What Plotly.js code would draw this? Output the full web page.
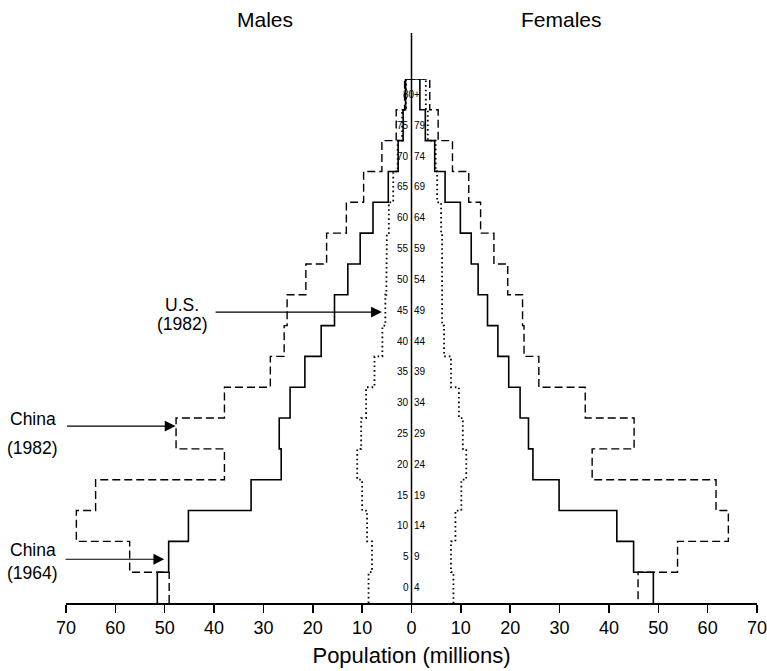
<!DOCTYPE html>
<html>
<head>
<meta charset="utf-8">
<script src="https://cdn.plot.ly/plotly-3.0.1.min.js"></script>
<style>html,body{margin:0;padding:0;background:#fff;}#chart{width:767px;height:671px;}</style>
</head>
<body>
<div id="chart"></div>
<script>
// Age groups (lower bound of each 5-year band); last band is 80+
const ageStarts = [0, 5, 10, 15, 20, 25, 30, 35, 40, 45, 50, 55, 60, 65, 70, 75, 80];
const ageLeftLabels  = ['0','5','10','15','20','25','30','35','40','45','50','55','60','65','70','75'];
const ageRightLabels = ['4','9','14','19','24','29','34','39','44','49','54','59','64','69','74','79'];
const topLabel = '80+';

// Population in millions, by age band (0-4 ... 80+)
const china1964Male   = [51.5, 49.2, 45.2, 32.5, 26.4, 26.8, 24.6, 21.6, 18.3, 15.6, 12.9, 10.4, 7.8, 4.7, 2.7, 1.7, 1.2];
const china1964Female = [49.0, 45.0, 41.6, 29.9, 24.6, 23.7, 22.0, 19.7, 17.5, 15.4, 13.5, 12.1, 9.9, 6.8, 4.7, 2.8, 1.7];
const china1982Male   = [49.1, 57.1, 67.9, 64.0, 37.9, 47.7, 37.9, 28.6, 25.8, 25.2, 21.4, 17.2, 13.2, 9.7, 6.0, 3.1, 1.4];
const china1982Female = [45.9, 53.9, 64.2, 61.7, 36.6, 45.1, 35.2, 25.8, 22.8, 22.5, 19.5, 16.7, 14.0, 11.6, 8.3, 5.4, 3.7];
const us1982Male      = [8.7, 8.0, 9.0, 10.0, 11.0, 10.2, 9.2, 7.5, 5.9, 5.3, 5.1, 5.0, 4.6, 3.7, 2.8, 1.9, 1.1];
const us1982Female    = [8.5, 8.0, 8.9, 10.1, 11.1, 10.4, 9.6, 8.0, 6.6, 6.2, 6.2, 6.2, 6.0, 5.2, 4.9, 3.3, 2.9];

const xTickVals = [-70, -60, -50, -40, -30, -20, -10, 0, 10, 20, 30, 40, 50, 60, 70];
const xTickText = ['70','60','50','40','30','20','10','0','10','20','30','40','50','60','70'];

const BAND = 5;
const FONT = 'Liberation Sans, Arial, Helvetica, sans-serif';

function pyramidPath(male, female) {
  const xs = [], ys = [];
  for (let i = 0; i < male.length; i++) {
    xs.push(-male[i], -male[i]);
    ys.push(ageStarts[i], ageStarts[i] + BAND);
  }
  for (let i = female.length - 1; i >= 0; i--) {
    xs.push(female[i], female[i]);
    ys.push(ageStarts[i] + BAND, ageStarts[i]);
  }
  return {xs, ys};
}

function trace(name, male, female, line) {
  const p = pyramidPath(male, female);
  return {type: 'scatter', mode: 'lines', name: name, x: p.xs, y: p.ys,
          line: Object.assign({color: '#000', shape: 'linear'}, line),
          hoverinfo: 'skip', showlegend: false, cliponaxis: false};
}

const data = [
  trace('China (1982)', china1982Male, china1982Female, {width: 1.4, dash: '8px,4px'}),
  trace('U.S. (1982)', us1982Male, us1982Female, {width: 1.8, dash: '1.6px,3px'}),
  trace('China (1964)', china1964Male, china1964Female, {width: 1.6})
];

const annotations = [];
// age labels along the centre line
for (let i = 0; i < ageLeftLabels.length; i++) {
  const yc = ageStarts[i] + BAND / 2;
  annotations.push({x: 0, y: yc, xref: 'x', yref: 'y', text: ageLeftLabels[i], showarrow: false,
    xanchor: 'right', yanchor: 'middle', xshift: -0.5, font: {family: FONT, size: 10, color: '#000'}});
  annotations.push({x: 0, y: yc, xref: 'x', yref: 'y', text: ageRightLabels[i], showarrow: false,
    xanchor: 'left', yanchor: 'middle', xshift: 0.5, font: {family: FONT, size: 10, color: '#000'}});
}
annotations.push({x: 0, y: ageStarts[16] + BAND / 2, xref: 'x', yref: 'y', text: topLabel, showarrow: false,
  xanchor: 'center', yanchor: 'middle', font: {family: FONT, size: 10, color: '#000'}});

// section headings
annotations.push({x: -29.7, y: 1.1126, xref: 'x', yref: 'paper', text: 'Males', showarrow: false,
  xanchor: 'center', yanchor: 'middle', font: {family: FONT, size: 21, color: '#000'}});
annotations.push({x: 30.3, y: 1.1126, xref: 'x', yref: 'paper', text: 'Females', showarrow: false,
  xanchor: 'center', yanchor: 'middle', font: {family: FONT, size: 21, color: '#000'}});

// series call-outs (x in paper fraction of the plot width so labels left of the axis are kept)
function label(text, xPaper, y) {
  annotations.push({x: xPaper, y: y, xref: 'paper', yref: 'y', text: text, showarrow: false,
    xanchor: 'center', yanchor: 'middle', font: {family: FONT, size: 17.5, color: '#000'}});
}
function arrow(tipX, tailX, y) {
  annotations.push({x: tipX, y: y, ax: tailX, ay: y, xref: 'x', yref: 'y', axref: 'x', ayref: 'y',
    text: '', showarrow: true, arrowhead: 2, arrowsize: 1.8, arrowwidth: 1.2, arrowcolor: '#000', standoff: 0});
}
label('U.S.', 0.1685, 48.4);
label('(1982)', 0.1685, 45.3);
arrow(-6.0, -40.0, 47.2);
label('China', -0.0478, 29.8);
label('(1982)', -0.0478, 25.2);
arrow(-47.8, -70.1, 28.7);
label('China', -0.0478, 8.6);
label('(1964)', -0.0478, 4.9);
arrow(-50.1, -70.4, 7.1);

const layout = {
  width: 767, height: 671,
  margin: {l: 66, r: 10, t: 79, b: 68, pad: 0},
  paper_bgcolor: '#fff', plot_bgcolor: '#fff',
  showlegend: false,
  xaxis: {
    range: [-70, 70], tickvals: xTickVals, ticktext: xTickText,
    ticks: 'outside', ticklen: 8, tickwidth: 1.5, tickcolor: '#000',
    showline: true, linecolor: '#000', linewidth: 1.5,
    showgrid: false, zeroline: false, fixedrange: true,
    ticklabeloverflow: 'allow',
    tickfont: {family: FONT, size: 18, color: '#000'},
    title: {text: 'Population (millions)', font: {family: FONT, size: 22, color: '#000'}, standoff: 10}
  },
  yaxis: {range: [0, 85], visible: false, fixedrange: true},
  shapes: [
    {type: 'line', xref: 'x', yref: 'paper', x0: 0, x1: 0, y0: 0, y1: 1.088,
     line: {color: '#000', width: 1.5}}
  ],
  annotations: annotations
};

Plotly.newPlot('chart', data, layout, {staticPlot: true, displayModeBar: false});
</script>
</body>
</html>
